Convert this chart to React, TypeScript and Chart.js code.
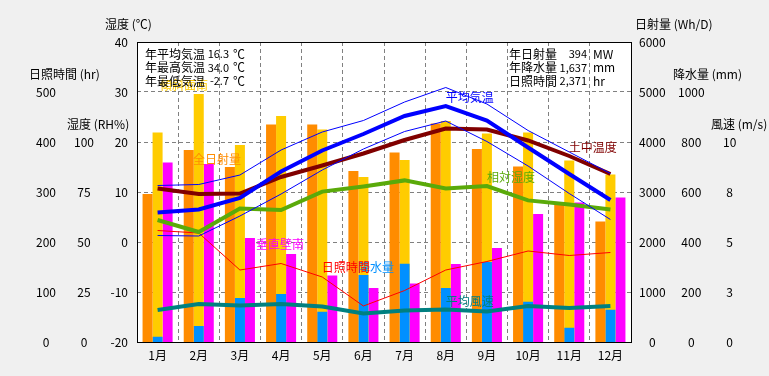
import React, { useEffect, useRef } from 'react';
import { Chart, registerables } from 'chart.js';

Chart.register(...registerables);

// ---- data ----
const months = ['1月', '2月', '3月', '4月', '5月', '6月', '7月', '8月', '9月', '10月', '11月', '12月'];
// solar radiation (Wh/D)
const globalSolar = [2960, 3840, 3500, 4350, 4350, 3420, 3790, 4370, 3860, 3510, 2750, 2410];
const tiltSolar = [4190, 4960, 3940, 4520, 4250, 3300, 3640, 4420, 4170, 4190, 3630, 3350];
const wallSouth = [3590, 3560, 2080, 1760, 1330, 1080, 1170, 1560, 1880, 2560, 2790, 2890];
// precipitation (mm)
const precipitation = [21, 64, 176, 192, 121, 268, 313, 216, 320, 161, 57, 129];
// sunshine hours (hr)
const sunshine = [223, 218, 144, 157, 130, 72, 103, 144, 161, 182, 173, 179];
// temperatures (℃)
const avgTemp = [5.9, 6.5, 8.8, 14.1, 18.3, 21.6, 25.2, 27.2, 24.3, 18.9, 13.6, 8.4];
const maxTemp = [11.3, 11.5, 13.4, 18.4, 22.0, 24.3, 28.0, 30.9, 27.6, 22.3, 18.0, 13.7];
const minTemp = [1.3, 1.2, 5.2, 9.6, 14.4, 18.6, 22.1, 24.2, 20.1, 15.2, 9.7, 4.5];
const soilTemp = [10.7, 9.6, 9.7, 13.0, 15.3, 17.7, 20.4, 22.7, 22.5, 20.3, 17.2, 13.6];
// relative humidity (RH%)
const humidity = [61, 55, 66.8, 66, 75.2, 77.8, 80.8, 76.8, 78, 70.8, 68.7, 66.2];
// wind speed (m/s)
const windSpeed = [1.6, 1.9, 1.83, 1.9, 1.77, 1.43, 1.57, 1.63, 1.52, 1.8, 1.7, 1.8];

const leftInfoLabels = ['年平均気温', '年最高気温', '年最低気温'];
const leftInfoValues = ['16.3', '34.0', '-2.7'];
const leftInfoUnits = ['℃', '℃', '℃'];
const rightInfoLabels = ['年日射量', '年降水量', '日照時間'];
const rightInfoValues = ['394', '1,637', '2,371'];
const rightInfoUnits = ['MW', 'mm', 'hr'];

// series name labels anchored in data units (category index, axis, value)
const seriesLabels = [
  { text: '傾斜面南', color: '#FFCC00', x: 0.06, axis: 'yS', value: 5140 },
  { text: '全日射量', color: '#FF8C00', x: 0.86, axis: 'yS', value: 3660 },
  { text: '垂直壁南', color: '#FF00FF', x: 2.39, axis: 'yS', value: 1950 },
  { text: '降水量', color: '#0090FF', x: 4.87, axis: 'yP', value: 298 },
  { text: '日照時間', color: '#FF0000', x: 3.99, axis: 'yHr', value: 149 },
  { text: '平均気温', color: '#0000FF', x: 7.0, axis: 'yT', value: 28.9 },
  { text: '土中温度', color: '#800000', x: 9.99, axis: 'yT', value: 18.9 },
  { text: '相対湿度', color: '#5AAA0A', x: 8.0, axis: 'yRH', value: 82.3 },
  { text: '平均風速', color: '#008080', x: 7.0, axis: 'yW', value: 2.05 },
];

const FONT = "'Noto Sans CJK JP', 'Noto Sans', sans-serif";
const GRID = '#808080';
const DASH = [4, 3];

const decorPlugin = {
  id: 'decor',
  beforeDraw(chart: any) {
    const { ctx, chartArea: a, width, height } = chart;
    ctx.save();
    ctx.fillStyle = '#F0F0F0';
    ctx.fillRect(0, 0, width, height);
    ctx.fillStyle = '#FFFFFF';
    ctx.fillRect(a.left, a.top, a.right - a.left, a.bottom - a.top);
    ctx.restore();
  },
  afterDatasetsDraw(chart: any) {
    const { ctx, scales } = chart;
    ctx.save();
    ctx.font = `12px ${FONT}`;
    ctx.textBaseline = 'middle';
    ctx.textAlign = 'left';
    for (const l of seriesLabels) {
      ctx.fillStyle = l.color;
      ctx.fillText(l.text, scales.x.getPixelForValue(l.x), scales[l.axis].getPixelForValue(l.value));
    }
    ctx.restore();
  },
  afterDraw(chart: any) {
    const { ctx, chartArea: a, scales } = chart;
    ctx.save();
    ctx.strokeStyle = '#000';
    ctx.lineWidth = 1;
    ctx.strokeRect(a.left + 0.5, a.top + 0.5, a.right - a.left, a.bottom - a.top);

    ctx.fillStyle = '#000';
    ctx.textBaseline = 'middle';
    // info boxes
    for (let i = 0; i < 3; i++) {
      const y = a.top + 12 + i * 13.5;
      ctx.font = `12px ${FONT}`;
      ctx.textAlign = 'left';
      ctx.fillText(leftInfoLabels[i], a.left + 8, y);
      ctx.fillText(leftInfoUnits[i], a.left + 96, y);
      ctx.fillText(rightInfoLabels[i], a.right - 122, y);
      ctx.fillText(rightInfoUnits[i], a.right - 38, y);
      ctx.font = `11px ${FONT}`;
      ctx.textAlign = 'right';
      ctx.fillText(leftInfoValues[i], a.left + 92, y);
      ctx.fillText(rightInfoValues[i], a.right - 44, y);
    }
    // axis titles
    ctx.font = `12px ${FONT}`;
    ctx.textAlign = 'left';
    const titles = [
      { t: '湿度 (℃)', x: 105, axis: 'yT', v: 40 },
      { t: '日照時間 (hr)', x: 29, axis: 'yHr', v: 500 },
      { t: '湿度 (RH%)', x: 67, axis: 'yRH', v: 100 },
      { t: '日射量 (Wh/D)', x: 635, axis: 'yS', v: 6000 },
      { t: '降水量 (mm)', x: 673, axis: 'yP', v: 1000 },
      { t: '風速 (m/s)', x: 711, axis: 'yW', v: 10 },
    ];
    for (const t of titles) {
      ctx.fillText(t.t, t.x, scales[t.axis].getPixelForValue(t.v) - 17.5);
    }
    ctx.restore();
  },
};

function sideAxis(position: string, weight: number, min: number, max: number, step: number, maxLabel: number, width: number, padding: number, fmt?: (v: number) => string) {
  return {
    type: 'linear',
    position,
    weight,
    min,
    max,
    stacked: false,
    grid: { display: false, drawTicks: false },
    border: { display: false },
    ticks: {
      stepSize: step,
      autoSkip: false,
      padding,
      crossAlign: 'center',
      color: '#000',
      font: { size: 12, family: FONT },
      callback: (v: number) => (v <= maxLabel ? (fmt ? fmt(v) : String(v)) : ''),
    },
    afterFit: (s: any) => {
      s.width = width;
    },
  };
}

export default function App() {
  const ref = useRef<HTMLCanvasElement | null>(null);
  useEffect(() => {
    if (!ref.current) return;
    const line = (data: number[], color: string, width: number, axis: string) => ({
      type: 'line',
      data,
      borderColor: color,
      backgroundColor: color,
      borderWidth: width,
      pointRadius: 0,
      tension: 0,
      fill: false,
      yAxisID: axis,
      order: 0,
    });
    const bar = (data: number[], color: string, axis: string, stack: string) => ({
      type: 'bar',
      data,
      backgroundColor: color,
      borderWidth: 0,
      yAxisID: axis,
      stack,
      categoryPercentage: 0.73,
      barPercentage: 1,
      order: 1,
    });
    const chart = new Chart(ref.current, {
      type: 'bar',
      data: {
        labels: months,
        datasets: [
          line(avgTemp, '#0000FF', 4, 'yT'),
          line(maxTemp, '#0000FF', 1, 'yT'),
          line(minTemp, '#0000FF', 1, 'yT'),
          line(soilTemp, '#800000', 4, 'yT'),
          line(humidity, '#5AAA0A', 4, 'yRH'),
          line(windSpeed, '#008080', 4, 'yW'),
          line(sunshine, '#FF0000', 1, 'yHr'),
          bar(globalSolar, '#FF8C00', 'yS', 'a'),
          bar(precipitation, '#0090FF', 'yP', 'b'),
          bar(tiltSolar, '#FFCC00', 'yS', 'b'),
          bar(wallSouth, '#FF00FF', 'yS', 'c'),
        ] as any,
      },
      options: {
        responsive: false,
        animation: false,
        devicePixelRatio: 1,
        layout: { padding: { left: 0, right: 0, top: 42, bottom: 0 } },
        plugins: { legend: { display: false }, tooltip: { enabled: false } },
        scales: {
          x: {
            type: 'category',
            offset: true,
            grid: { display: true, color: GRID, drawTicks: false, offset: true },
            border: { display: false, dash: DASH },
            ticks: { padding: 6, color: '#000', font: { size: 12, family: FONT } },
            afterFit: (s: any) => {
              s.height = 34;
            },
          },
          yT: {
            type: 'linear',
            position: 'left',
            weight: 0,
            min: -20,
            max: 40,
            stacked: false,
            grid: { display: true, color: GRID, drawTicks: false },
            border: { display: false, dash: DASH },
            ticks: {
              stepSize: 10,
              autoSkip: false,
              padding: 9,
              color: '#000',
              font: { size: 12, family: FONT },
            },
            afterFit: (s: any) => {
              s.width = 33;
            },
          },
          yRH: sideAxis('left', 1, 0, 150, 25, 100, 38, 10),
          yHr: sideAxis('left', 2, 0, 600, 100, 500, 66, 10),
          yS: sideAxis('right', 0, 0, 6000, 1000, 6000, 40, 8),
          yP: sideAxis('right', 1, 0, 1200, 200, 1000, 39, 7),
          yW: sideAxis('right', 2, 0, 15, 2.5, 10, 59, 13, (v) => String(Math.round(v))),
        } as any,
      },
      plugins: [decorPlugin],
    });
    return () => chart.destroy();
  }, []);
  return (
    <div style={{ position: 'fixed', left: 0, top: 0, width: 769, height: 376, background: '#F0F0F0' }}>
      <canvas ref={ref} width={769} height={376} style={{ display: 'block' }} />
    </div>
  );
}
